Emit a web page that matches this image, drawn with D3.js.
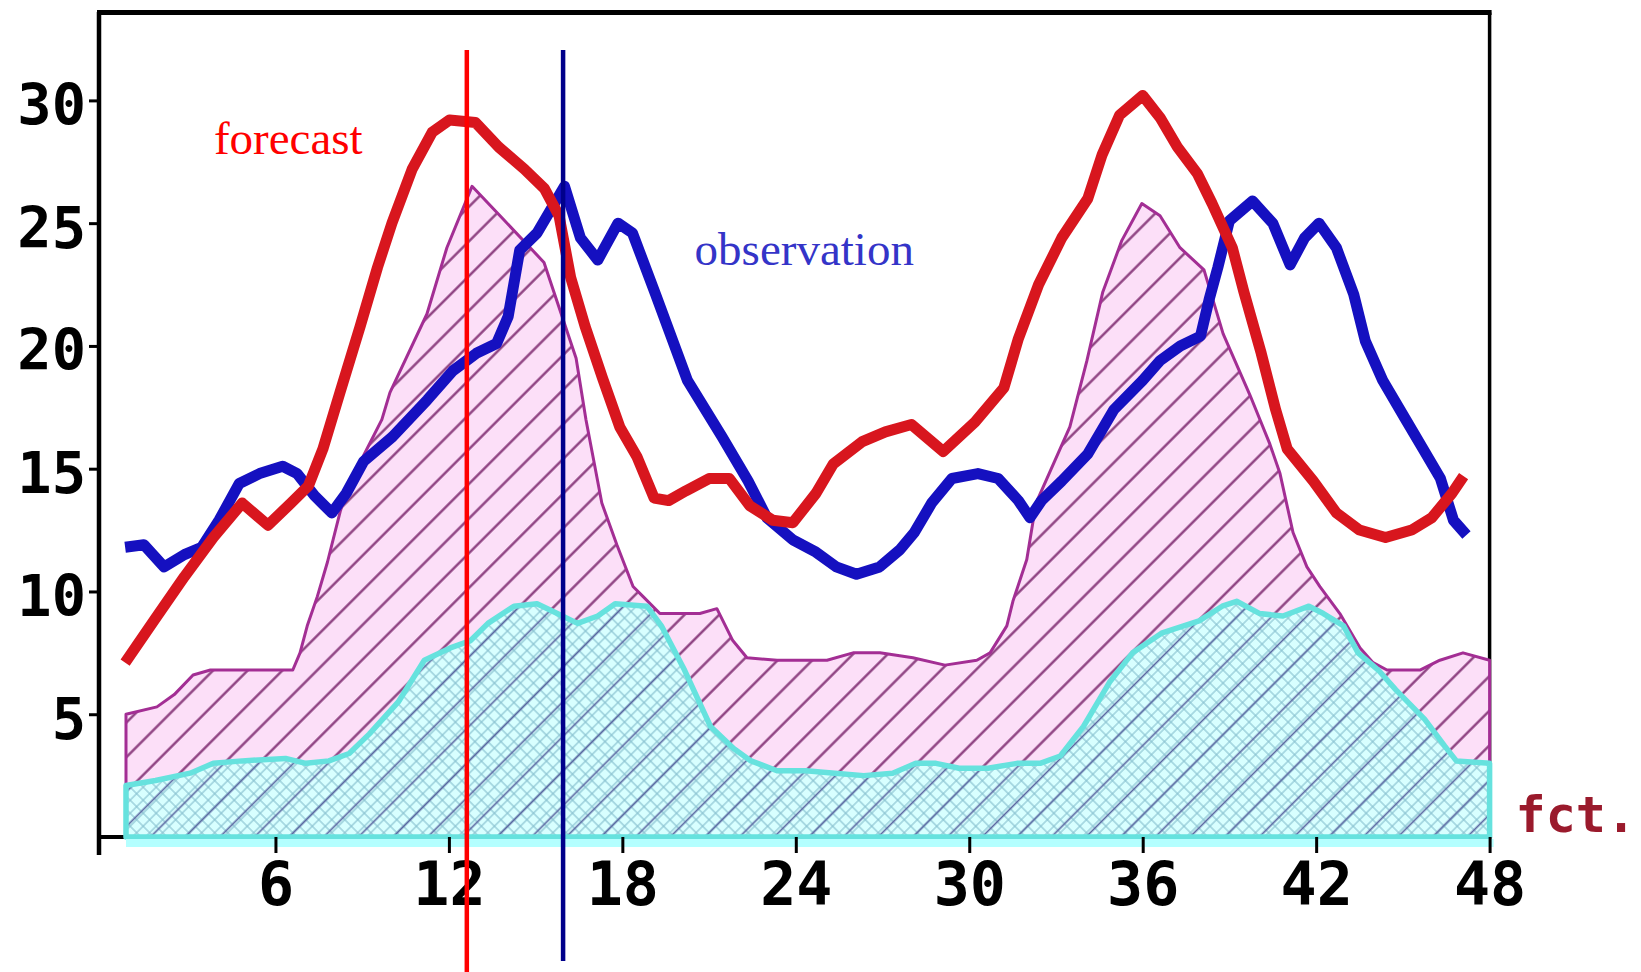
<!DOCTYPE html>
<html lang="en">
<head>
<meta charset="UTF-8">
<title>forecast / observation</title>
<script src="https://cdn.jsdelivr.net/npm/d3@7/dist/d3.min.js"></script>
<style>
  * { margin: 0; padding: 0; }
  body { background: #fff; overflow: hidden; }
  svg { display: block; }
  .tick text { font-family: 'DejaVu Sans Mono', monospace; font-weight: bold; fill: #000; }
</style>
</head>
<body>
<svg id="chart" width="1641" height="972"></svg>
<script>
// ---------------------------------------------------------------------------
// Data (hours vs value)
// ---------------------------------------------------------------------------
const xTicks = [6, 12, 18, 24, 30, 36, 42, 48];
const yTicks = [5, 10, 15, 20, 25, 30];

// forecast (red)
const fcstHours = [0.8, 1.85, 2.85, 3.85, 4.85, 5.74, 6.54, 7.14, 7.64, 8.23, 8.93, 9.53, 10.03, 10.73, 11.42,
  12.02, 12.92, 13.72, 14.61, 15.31, 15.81, 16.21, 16.71, 17.31, 17.91, 18.5, 19.1, 19.6, 20.2, 21.0, 21.7,
  22.4, 23.2, 23.9, 24.7, 25.3, 26.3, 27.1, 28.0, 29.1, 30.2, 31.2, 31.7, 32.4, 33.2, 34.1, 34.6, 35.2,
  36.0, 36.6, 37.2, 37.9, 38.4, 39.1, 39.5, 40.1, 40.6, 41.0, 41.9, 42.7, 43.5, 44.4, 45.3, 46.0, 46.7, 47.1];
const fcstValues = [7.1, 8.9, 10.6, 12.2, 13.6, 12.7, 13.6, 14.3, 15.8, 18.1, 20.8, 23.2, 25.0, 27.2, 28.7,
  29.2, 29.1, 28.1, 27.2, 26.4, 25.3, 22.8, 20.8, 18.7, 16.7, 15.5, 13.8, 13.7, 14.1, 14.6, 14.6,
  13.5, 12.9, 12.8, 14.0, 15.2, 16.1, 16.5, 16.8, 15.7, 16.9, 18.3, 20.3, 22.5, 24.4, 26.0, 27.8, 29.4,
  30.2, 29.3, 28.1, 27.0, 25.8, 24.0, 22.2, 19.7, 17.4, 15.8, 14.5, 13.2, 12.5, 12.2, 12.5, 13.0, 14.0, 14.7];

// observation (blue)
const obsHours = [0.8, 1.45, 2.15, 2.85, 3.45, 4.05, 4.75, 5.45, 6.25, 6.75, 7.35, 7.95, 8.45, 9.05, 10.05,
  11.25, 12.15, 12.95, 13.65, 14.05, 14.45, 15.05, 16.0, 16.55, 17.15, 17.85, 18.35, 19.15, 20.25, 21.45,
  22.35, 23.0, 23.9, 24.7, 25.4, 26.1, 26.9, 27.6, 28.1, 28.7, 29.4, 30.3, 31.0, 31.7, 32.1, 32.5, 33.2,
  34.1, 35.0, 36.0, 36.6, 37.3, 38.0, 38.3, 38.6, 39.0, 39.8, 40.5, 41.1, 41.6, 42.1, 42.7, 43.3, 43.7,
  44.3, 45.1, 45.7, 46.3, 46.75, 47.2];
const obsValues = [11.8, 11.9, 11.0, 11.5, 11.8, 12.9, 14.4, 14.8, 15.1, 14.8, 13.9, 13.2, 14.0, 15.3, 16.3,
  17.8, 19.0, 19.7, 20.1, 21.2, 23.9, 24.6, 26.5, 24.4, 23.5, 25.0, 24.6, 22.1, 18.6, 16.3,
  14.5, 13.0, 12.1, 11.6, 11.0, 10.7, 11.0, 11.7, 12.4, 13.6, 14.6, 14.8, 14.6, 13.7, 13.0, 13.7, 14.5,
  15.6, 17.4, 18.6, 19.4, 20.0, 20.4, 21.9, 23.2, 25.1, 25.9, 25.0, 23.3, 24.4, 25.0, 24.0, 22.1, 20.2,
  18.6, 17.0, 15.8, 14.6, 12.9, 12.3];

// hatched (pink) band
const hatchHours = [0.83, 1.9, 2.5, 3.15, 3.75, 5.95, 6.6, 6.85, 7.1, 7.45, 7.8, 8.25, 8.6, 9.68, 9.96, 11.24,
  11.93, 12.8, 13.85, 15.29, 16.4, 16.74, 17.29, 17.81, 18.37, 18.71, 19.3, 20.68, 21.27, 21.82, 22.31,
  23.35, 25.08, 25.98, 26.91, 28.05, 29.16, 30.26, 30.72, 31.3, 31.51, 31.99, 32.31, 33.48, 34.07, 34.62,
  35.28, 35.97, 36.6, 37.29, 38.12, 38.78, 39.71, 40.4, 40.75, 41.2, 41.68, 42.13, 42.82, 43.52, 43.97,
  44.45, 45.59, 46.28, 47.08, 48.0];
const hatchValues = [5.0, 5.3, 5.8, 6.6, 6.8, 6.8, 6.8, 7.5, 8.6, 9.8, 11.2, 13.3, 14.5, 17.0, 18.1, 21.3,
  24.0, 26.5, 25.2, 23.4, 19.5, 17.0, 13.6, 11.9, 10.2, 9.8, 9.1, 9.1, 9.3, 8.0, 7.3,
  7.2, 7.2, 7.5, 7.5, 7.3, 7.0, 7.2, 7.5, 8.6, 9.6, 11.3, 13.6, 16.7, 19.4, 22.2,
  24.3, 25.8, 25.3, 24.0, 23.1, 20.5, 18.0, 16.0, 14.8, 12.4, 11.0, 10.2, 9.1, 7.7, 7.1,
  6.8, 6.8, 7.2, 7.5, 7.2];

// cross-hatched (cyan) band
const crossHours = [0.83, 1.85, 3.05, 3.85, 4.85, 6.35, 7.05, 7.85, 8.55, 9.25, 10.25, 11.15, 12.05, 12.75,
  13.35, 14.25, 15.05, 15.75, 16.45, 17.15, 17.75, 18.85, 19.35, 20.15, 21.05, 21.85, 22.45, 23.35, 24.35,
  25.35, 26.35, 27.35, 28.15, 28.85, 29.65, 30.65, 31.65, 32.45, 33.15, 33.95, 34.85, 35.65, 36.65, 37.95,
  38.75, 39.25, 40.05, 40.85, 41.75, 42.25, 42.95, 43.45, 44.15, 44.75, 45.75, 46.45, 46.85, 48.0];
const crossValues = [2.1, 2.3, 2.6, 3.0, 3.1, 3.2, 3.0, 3.1, 3.4, 4.2, 5.5, 7.2, 7.7, 8.0,
  8.7, 9.4, 9.5, 9.1, 8.7, 9.0, 9.5, 9.4, 8.6, 6.8, 4.5, 3.6, 3.1, 2.7, 2.7,
  2.6, 2.5, 2.6, 3.0, 3.0, 2.8, 2.8, 3.0, 3.0, 3.3, 4.5, 6.3, 7.5, 8.3, 8.8,
  9.4, 9.6, 9.1, 9.0, 9.4, 9.1, 8.6, 7.5, 6.8, 6.0, 4.8, 3.7, 3.1, 3.0];

// vertical markers: forecast peak time, observed peak time
const markerHours = [12.62, 15.95];
const markerColors = ['#ff0000', '#00008b'];

// ---------------------------------------------------------------------------
// Layout
// ---------------------------------------------------------------------------
const svg = d3.select('#chart');
const x = d3.scaleLinear().domain([0, 48]).range([102, 1489.6]);
const y = d3.scaleLinear().domain([0, 33.6]).range([837, 12]);
const axisX = 99;

const defs = svg.append('defs');

function hatch(id, size, angle, color, width, both) {
  const p = defs.append('pattern')
    .attr('id', id)
    .attr('patternUnits', 'userSpaceOnUse')
    .attr('width', size).attr('height', size)
    .attr('patternTransform', `rotate(${angle})`);
  p.append('line').attr('x1', size / 2).attr('y1', 0).attr('x2', size / 2).attr('y2', size)
    .attr('stroke', color).attr('stroke-width', width);
  if (both) {
    p.append('line').attr('x1', 0).attr('y1', size / 2).attr('x2', size).attr('y2', size / 2)
      .attr('stroke', color).attr('stroke-width', width);
  }
}
hatch('diag', 24.5, 45, '#87387a', 2.3, false);
hatch('diagDark', 24.5, 45, '#5a66a0', 1.7, false);
hatch('cross', 9.2, 45, '#86bfce', 1.1, true);

// frame (drawn first so the bands cover the baseline)
const frame = svg.append('g').attr('stroke', '#000').attr('fill', 'none');
frame.append('line').attr('x1', axisX).attr('x2', axisX).attr('y1', y.range()[1]).attr('y2', y(0) + 18).attr('stroke-width', 4.5);
frame.append('line').attr('x1', axisX - 2).attr('x2', x(48) + 2).attr('y1', 12.5).attr('y2', 12.5).attr('stroke-width', 5);
frame.append('line').attr('x1', x(48)).attr('x2', x(48)).attr('y1', 12.5).attr('y2', y(0)).attr('stroke-width', 3.5);
frame.append('line').attr('x1', axisX).attr('x2', x(48)).attr('y1', y(0)).attr('y2', y(0)).attr('stroke-width', 4);

// ---------------------------------------------------------------------------
// Bands
// ---------------------------------------------------------------------------
const area = d3.area().x(d => x(d[0])).y0(y(0)).y1(d => y(d[1]));
const hatchData = d3.zip(hatchHours, hatchValues);
const crossData = d3.zip(crossHours, crossValues);

svg.append('path').datum(hatchData).attr('d', area).attr('fill', '#fcdff8');
svg.append('path').datum(hatchData).attr('d', area).attr('fill', 'url(#diag)');
svg.append('path').datum(hatchData).attr('d', area)
  .attr('fill', 'none').attr('stroke', '#a32e94').attr('stroke-width', 3).attr('stroke-linejoin', 'round');

svg.append('path').datum(crossData).attr('d', area).attr('fill', '#d8ffff');
svg.append('path').datum(crossData).attr('d', area).attr('fill', 'url(#cross)');
svg.append('path').datum(crossData).attr('d', area).attr('fill', 'url(#diagDark)');
svg.append('path').datum(crossData).attr('d', area)
  .attr('fill', 'none').attr('stroke', '#66e2de').attr('stroke-width', 5.5).attr('stroke-linejoin', 'round');
svg.append('line')
  .attr('x1', x(crossHours[0])).attr('x2', x(48) + 4)
  .attr('y1', y(0) + 6).attr('y2', y(0) + 6)
  .attr('stroke', '#b4ffff').attr('stroke-width', 8);

// ---------------------------------------------------------------------------
// Axes
// ---------------------------------------------------------------------------
const gx = svg.append('g')
  .attr('transform', `translate(0,${y(0)})`)
  .call(d3.axisBottom(x).tickValues(xTicks).tickSize(16).tickFormat(d3.format('d')));
gx.select('.domain').remove();
gx.selectAll('.tick line').attr('stroke-width', 3);
gx.selectAll('.tick text').attr('y', 68).attr('dy', null).attr('font-size', 60);

const gy = svg.append('g')
  .attr('transform', `translate(${axisX},0)`)
  .call(d3.axisLeft(y).tickValues(yTicks).tickSize(10).tickFormat(d3.format('d')));
gy.select('.domain').remove();
gy.selectAll('.tick line').attr('stroke-width', 3);
gy.selectAll('.tick text').attr('x', -13).attr('dy', null).attr('y', 24).attr('font-size', 57);

// ---------------------------------------------------------------------------
// Series
// ---------------------------------------------------------------------------
const line = d3.line().x(d => x(d[0])).y(d => y(d[1]));

svg.append('path').datum(d3.zip(obsHours, obsValues)).attr('d', line)
  .attr('fill', 'none').attr('stroke', '#1510c0').attr('stroke-width', 11).attr('stroke-linejoin', 'round');
svg.append('path').datum(d3.zip(fcstHours, fcstValues)).attr('d', line)
  .attr('fill', 'none').attr('stroke', '#d8161e').attr('stroke-width', 11).attr('stroke-linejoin', 'round');

// peak-time markers
svg.append('g').selectAll('line').data(markerHours).join('line')
  .attr('x1', d => x(d)).attr('x2', d => x(d))
  .attr('y1', 50).attr('y2', (d, i) => i === 0 ? 972 : 961)
  .attr('stroke', (d, i) => markerColors[i]).attr('stroke-width', 4.5);

// labels
svg.append('text').attr('x', x(3.87)).attr('y', y(27.8))
  .attr('font-family', "'Liberation Serif', 'Times New Roman', serif").attr('font-size', 47)
  .attr('fill', '#ff0000').text('forecast');
svg.append('text').attr('x', x(20.5)).attr('y', y(23.3))
  .attr('font-family', "'Liberation Serif', 'Times New Roman', serif").attr('font-size', 47)
  .attr('fill', '#3434c8').text('observation');
svg.append('text').attr('x', x(48) + 26).attr('y', y(0) - 5)
  .attr('font-family', "'DejaVu Sans Mono', monospace").attr('font-weight', 'bold').attr('font-size', 50)
  .attr('fill', '#9a1a2c').text('fct.');
</script>
</body>
</html>
